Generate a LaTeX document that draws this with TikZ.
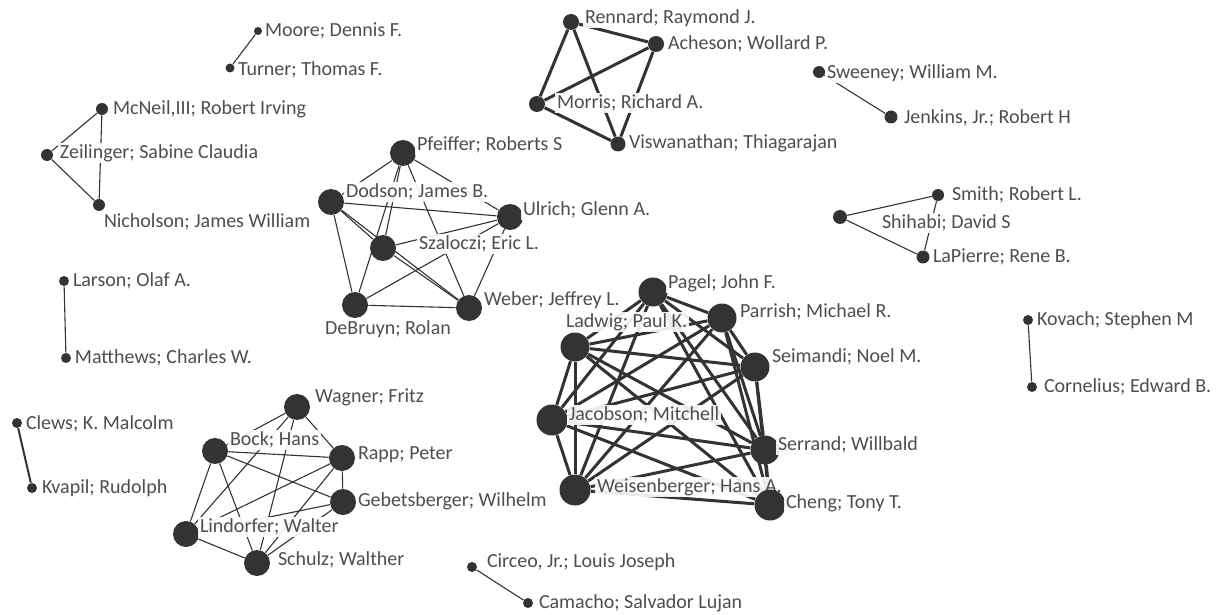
\documentclass[tikz,border=0pt]{standalone}
\usepackage{fontspec}
\setmainfont{Carlito}
\usetikzlibrary{positioning}
\definecolor{ink}{RGB}{51,51,51}
\definecolor{txt}{RGB}{78,78,78}
\pgfdeclarelayer{edges}
\pgfsetlayers{edges,main}
\tikzset{
  dot/.style={circle, fill=ink, inner sep=0pt, minimum size=#1},
  lbl/.style={anchor=west, font=\fontsize{10}{12}\selectfont, text=txt,
    fill=white, fill opacity=0.9, text opacity=1, inner sep=0.8pt},
  thin link/.style={draw=ink, line width=0.55pt},
  mid link/.style={draw=ink, line width=1pt},
  thick link/.style={draw=ink, line width=1.5pt}
}
\begin{document}
\begin{tikzpicture}[x=0.5pt,y=-0.5pt]
  \useasboundingbox (0,0) rectangle (1222,615);

  % pairs and triangles
  \node[dot=4pt] (moore) at (258,31) {};
  \node[lbl] at (263,31) {Moore; Dennis F.};
  \node[dot=4.5pt] (turner) at (230,68) {};
  \node[lbl] at (236,70) {Turner; Thomas F.};

  \node[dot=6pt] (mcneil) at (102,109) {};
  \node[lbl] at (111,109) {McNeil,III; Robert Irving};
  \node[dot=6pt] (zeil) at (47,155) {};
  \node[lbl] at (58,153) {Zeilinger; Sabine Claudia};
  \node[dot=6pt] (nich) at (99,205) {};
  \node[lbl] at (102,222) {Nicholson; James William};

  \node[dot=5pt] (larson) at (64,281) {};
  \node[lbl] at (71,281) {Larson; Olaf A.};
  \node[dot=5pt] (matthews) at (66,358) {};
  \node[lbl] at (73,358) {Matthews; Charles W.};

  \node[dot=5pt] (clews) at (17,423) {};
  \node[lbl] at (24,424) {Clews; K. Malcolm};
  \node[dot=5pt] (kvapil) at (32,488) {};
  \node[lbl] at (40,488) {Kvapil; Rudolph};

  \node[dot=6pt] (sweeney) at (819,72) {};
  \node[lbl] at (825,73) {Sweeney; William M.};
  \node[dot=6.5pt] (jenkins) at (891,117) {};
  \node[lbl] at (902,118) {Jenkins, Jr.; Robert H};

  \node[dot=7pt] (shihabi) at (840,217) {};
  \node[lbl] at (880,223) {Shihabi; David S};
  \node[dot=6pt] (smith) at (938,195) {};
  \node[lbl] at (950,195) {Smith; Robert L.};
  \node[dot=6.5pt] (lapierre) at (923,257) {};
  \node[lbl] at (931,257) {LaPierre; Rene B.};

  \node[dot=5pt] (kovach) at (1028,320) {};
  \node[lbl] at (1035,320) {Kovach; Stephen M};
  \node[dot=5pt] (cornelius) at (1032,387) {};
  \node[lbl] at (1042,387) {Cornelius; Edward B.};

  \node[dot=5pt] (circeo) at (472,567) {};
  \node[lbl] at (485,562) {Circeo, Jr.; Louis Joseph};
  \node[dot=5pt] (camacho) at (528,603) {};
  \node[lbl] at (537,603) {Camacho; Salvador Lujan};

  % four around Morris
  \node[dot=8pt] (rennard) at (571,22) {};
  \node[lbl] at (583,18) {Rennard; Raymond J.};
  \node[dot=8pt] (acheson) at (656,44) {};
  \node[lbl] at (666,44) {Acheson; Wollard P.};
  \node[dot=8pt] (morris) at (537,104) {};
  \node[lbl] at (555,103) {Morris; Richard A.};
  \node[dot=7.5pt] (viswa) at (618,144) {};
  \node[lbl] at (627,143) {Viswanathan; Thiagarajan};

  % Pfeiffer group
  \node[dot=13pt] (pfeiffer) at (403,153) {};
  \node[lbl] at (415,145) {Pfeiffer; Roberts S};
  \node[dot=13pt] (dodson) at (331,202) {};
  \node[lbl] at (344,192) {Dodson; James B.};
  \node[dot=13pt] (ulrich) at (510,217) {};
  \node[lbl] at (521,210) {Ulrich; Glenn A.};
  \node[dot=13pt] (szaloczi) at (383,248) {};
  \node[lbl] at (417,244) {Szaloczi; Eric L.};
  \node[dot=13pt] (debruyn) at (355,305) {};
  \node[lbl, anchor=center] at (388,329) {DeBruyn; Rolan};
  \node[dot=13pt] (weber) at (469,308) {};
  \node[lbl] at (482,300) {Weber; Jeffrey L.};

  % Wagner group
  \node[dot=13pt] (wagner) at (297,407) {};
  \node[lbl] at (313,397) {Wagner; Fritz};
  \node[dot=13pt] (bock) at (215,451) {};
  \node[lbl] at (228,440) {Bock; Hans};
  \node[dot=13pt] (rapp) at (342,458) {};
  \node[lbl] at (356,455) {Rapp; Peter};
  \node[dot=13pt] (gebets) at (343,502) {};
  \node[lbl] at (356,501) {Gebetsberger; Wilhelm};
  \node[dot=13pt] (lindorfer) at (186,534) {};
  \node[lbl] at (198,527) {Lindorfer; Walter};
  \node[dot=13pt] (schulz) at (257,563) {};
  \node[lbl] at (276,560) {Schulz; Walther};

  % big group
  \node[dot=14.5pt] (pagel) at (653,292) {};
  \node[lbl] at (666,283) {Pagel; John F.};
  \node[dot=14.5pt] (parrish) at (722,318) {};
  \node[lbl] at (738,312) {Parrish; Michael R.};
  \node[dot=14.5pt] (ladwig) at (575,347) {};
  \node[lbl] at (564,322) {Ladwig; Paul K.};
  \node[dot=14.5pt] (seimandi) at (755,367) {};
  \node[lbl] at (770,357) {Seimandi; Noel M.};
  \node[dot=15.5pt] (jacobson) at (552,420) {};
  \node[lbl] at (567,415) {Jacobson; Mitchell};
  \node[dot=14.5pt] (serrand) at (765,450) {};
  \node[lbl] at (776,445) {Serrand; Willbald};
  \node[dot=15.5pt] (weisen) at (575,490) {};
  \node[lbl] at (595,487) {Weisenberger; Hans A.};
  \node[dot=15.5pt] (cheng) at (770,505) {};
  \node[lbl] at (784,503) {Cheng; Tony T.};

  \begin{pgfonlayer}{edges}
    \draw[thin link] (moore) -- (turner);
    \draw[thin link] (mcneil) -- (zeil) -- (nich) -- (mcneil);
    \draw[thin link] (larson) -- (matthews);
    \draw[mid link] (clews) -- (kvapil);
    \draw[thin link] (sweeney) -- (jenkins);
    \draw[thin link] (shihabi) -- (smith) -- (lapierre) -- (shihabi);
    \draw[thin link] (kovach) -- (cornelius);
    \draw[thin link] (circeo) -- (camacho);

    \foreach \a/\b in {rennard/acheson, rennard/morris, rennard/viswa,
                       acheson/morris, acheson/viswa, morris/viswa}
      \draw[thick link] (\a) -- (\b);

    \foreach \a/\b in {pfeiffer/dodson, pfeiffer/szaloczi, pfeiffer/debruyn,
                       pfeiffer/weber, pfeiffer/ulrich, dodson/ulrich,
                       dodson/debruyn, dodson/szaloczi, dodson/weber,
                       szaloczi/ulrich, szaloczi/weber, ulrich/debruyn,
                       ulrich/weber, debruyn/weber}
      \draw[thin link] (\a) -- (\b);

    \foreach \a/\b in {wagner/bock, wagner/lindorfer, wagner/schulz,
                       wagner/rapp, bock/rapp, bock/gebets, bock/lindorfer,
                       bock/schulz, rapp/gebets, rapp/lindorfer, rapp/schulz,
                       gebets/lindorfer, gebets/schulz, lindorfer/schulz}
      \draw[thin link] (\a) -- (\b);

    \foreach \a [count=\i] in {pagel,parrish,ladwig,seimandi,jacobson,serrand,weisen,cheng}
      \foreach \b [count=\j] in {pagel,parrish,ladwig,seimandi,jacobson,serrand,weisen,cheng}
        {\ifnum\j>\i \draw[thick link] (\a) -- (\b); \fi}
  \end{pgfonlayer}
\end{tikzpicture}
\end{document}
